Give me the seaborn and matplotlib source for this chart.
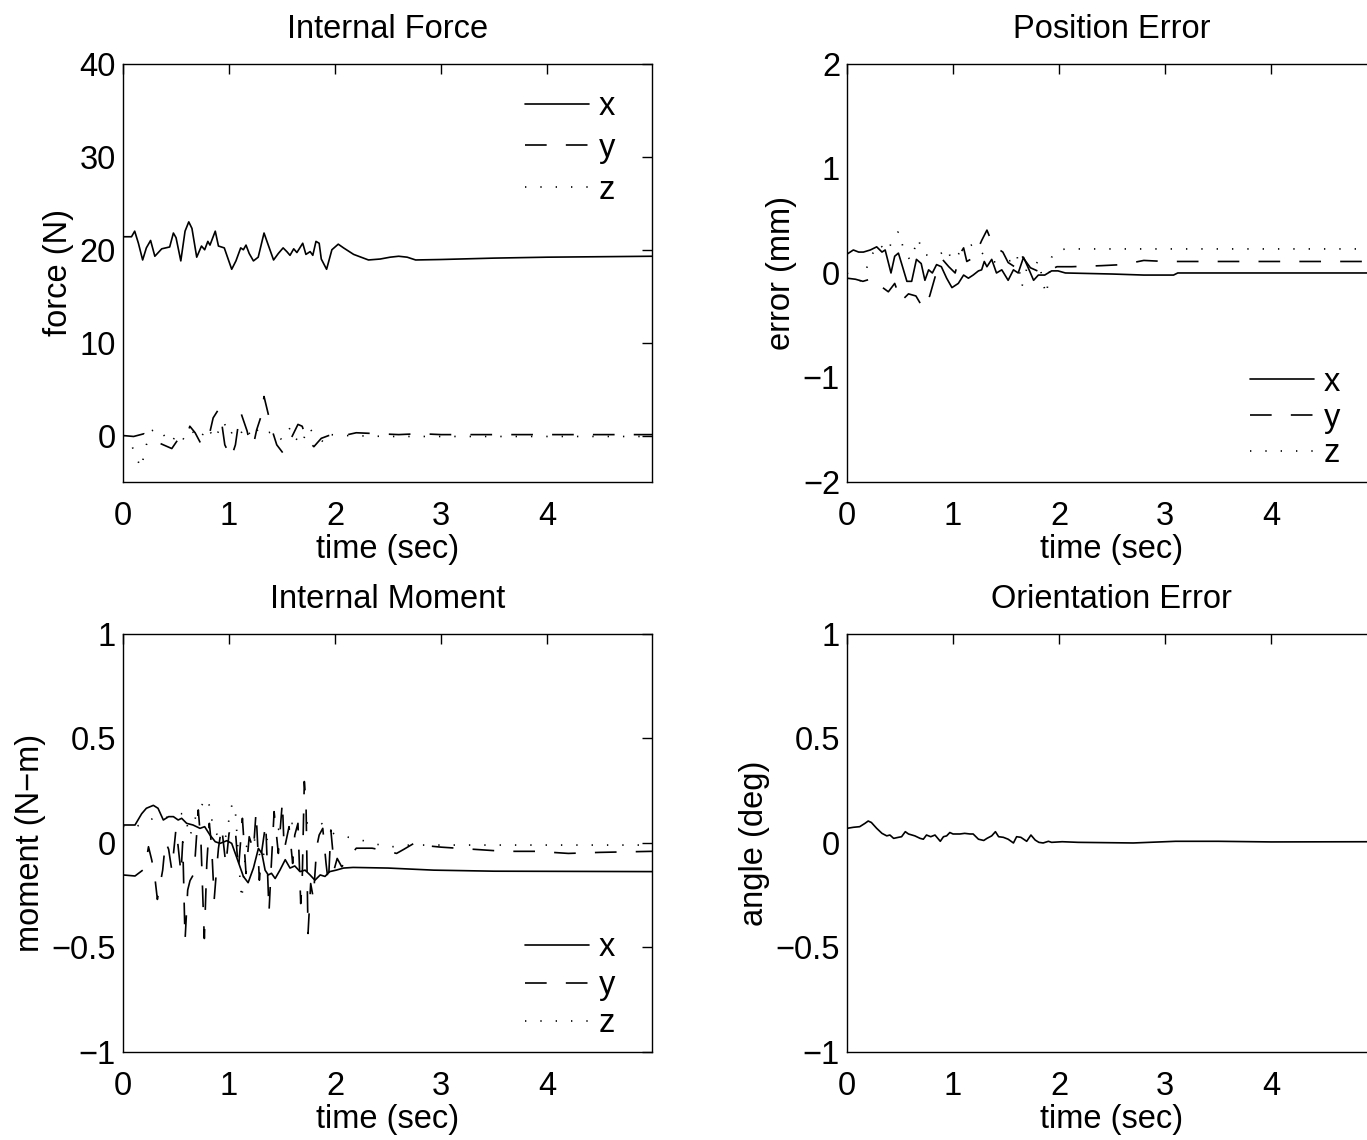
import matplotlib
matplotlib.use("Agg")
import matplotlib.pyplot as plt
import seaborn as sns

# ---- Internal Force (N) ----
force_x_t = [0.0, 0.08, 0.11, 0.145, 0.185, 0.22, 0.26, 0.30, 0.365, 0.44, 0.475, 0.5, 0.545,
             0.585, 0.62, 0.65, 0.695, 0.74, 0.77, 0.8, 0.82, 0.87, 0.9, 0.955, 1.025, 1.065,
             1.11, 1.135, 1.16, 1.19, 1.23, 1.275, 1.33, 1.37, 1.42, 1.465, 1.51, 1.545, 1.575,
             1.61, 1.64, 1.695, 1.725, 1.765, 1.79, 1.82, 1.85, 1.87, 1.92, 1.97, 2.03, 2.08,
             2.175, 2.315, 2.425, 2.52, 2.6, 2.68, 2.76, 3.0, 3.5, 4.0, 4.5, 4.99]
force_x = [21.4, 21.4, 22.0, 20.7, 18.9, 20.2, 21.0, 19.3, 20.1, 20.3, 21.8, 21.3, 18.8,
           22.0, 23.0, 22.3, 19.2, 20.4, 20.0, 20.9, 20.5, 22.0, 20.4, 20.2, 17.9, 18.8,
           20.2, 20.0, 20.5, 19.6, 18.8, 19.2, 21.8, 20.5, 18.9, 19.6, 20.2, 19.8, 19.4,
           20.1, 19.7, 20.7, 19.5, 19.8, 19.4, 20.9, 20.7, 19.0, 17.9, 20.0, 20.6, 20.2,
           19.5, 18.9, 19.0, 19.2, 19.3, 19.2, 18.9, 18.95, 19.1, 19.2, 19.25, 19.3]

force_y_t = [0.0, 0.1, 0.2, 0.3, 0.38, 0.46, 0.52, 0.6, 0.63, 0.68, 0.74, 0.78, 0.82, 0.85,
             0.9, 0.93, 0.96, 1.02, 1.06, 1.09, 1.11, 1.17, 1.2, 1.23, 1.26, 1.3, 1.33, 1.37,
             1.4, 1.45, 1.51, 1.55, 1.59, 1.65, 1.69, 1.73, 1.8, 1.87, 1.94, 2.0, 2.08, 2.2,
             2.4, 2.6, 2.8, 3.0, 3.5, 4.0, 4.5, 4.99]
force_y = [0.0, -0.1, 0.2, -0.6, -1.0, -1.4, -0.4, -0.1, 1.0, 0.3, -1.0, -0.2, 0.4, 1.9,
           2.8, 1.4, -1.0, -2.4, -1.0, 1.4, 2.5, 0.5, -1.0, -1.0, 0.6, 2.0, 4.2, 2.3,
           0.8, -1.0, -1.9, -1.0, -0.2, 1.2, 1.0, -0.4, -1.2, -0.3, 0.0, 0.1, 0.0, 0.3,
           0.2, 0.1, 0.2, 0.1, 0.1, 0.1, 0.1, 0.1]

force_z_t = [0.0, 0.08, 0.12, 0.17, 0.22, 0.27, 0.32, 0.38, 0.45, 0.52, 0.58, 0.65, 0.72,
             0.8, 0.86, 0.95, 1.0, 1.05, 1.1, 1.15, 1.22, 1.28, 1.35, 1.42, 1.5, 1.58, 1.63,
             1.68, 1.75, 1.8, 1.9, 1.95, 2.1, 2.5, 3.0, 4.0, 4.99]
force_z = [0.0, -1.0, -2.2, -3.5, -1.0, 0.5, 0.8, 0.1, -0.8, 0.3, -0.5, 0.5, -0.4,
           0.9, -0.4, 1.5, 0.0, 0.6, 0.0, 1.0, -0.3, 0.8, 0.2, 0.5, -0.5, 0.9, -0.3,
           -1.0, 0.9, 0.2, -0.8, 0.1, 0.0, -0.1, -0.1, -0.1, -0.1]

# ---- Position Error (mm) ----
pos_x_t = [0.0, 0.06, 0.11, 0.155, 0.22, 0.28, 0.33, 0.36, 0.415, 0.45, 0.485, 0.515, 0.565,
           0.61, 0.655, 0.7, 0.735, 0.77, 0.805, 0.845, 0.89, 0.94, 0.99, 1.05, 1.1, 1.145,
           1.19, 1.24, 1.27, 1.295, 1.32, 1.365, 1.41, 1.46, 1.52, 1.57, 1.615, 1.665,
           1.705, 1.76, 1.805, 1.865, 1.93, 1.99, 2.06, 2.5, 2.8, 3.08, 3.12, 4.0, 4.99]
pos_x = [0.18, 0.22, 0.2, 0.2, 0.22, 0.25, 0.2, 0.22, 0.0, 0.16, 0.19, 0.09, -0.08,
         -0.08, 0.13, 0.09, -0.07, 0.03, 0.0, 0.08, 0.06, -0.05, -0.14, -0.1, -0.02, -0.05,
         -0.02, 0.02, 0.03, 0.11, 0.06, 0.13, 0.0, 0.03, -0.07, 0.03, 0.0, 0.15,
         0.06, -0.07, -0.02, -0.02, 0.02, 0.02, 0.0, -0.01, -0.02, -0.02, 0.0, 0.0, 0.0]

pos_y_t = [0.0, 0.08, 0.15, 0.25, 0.31, 0.39, 0.45, 0.51, 0.58, 0.65, 0.72, 0.78, 0.85,
           0.9, 0.96, 1.02, 1.07, 1.1, 1.13, 1.2, 1.27, 1.32, 1.38, 1.47, 1.52, 1.58,
           1.63, 1.68, 1.73, 1.84, 1.92, 1.98, 2.12, 2.4, 2.6, 2.8, 3.0, 4.99]
pos_y = [-0.05, -0.06, -0.08, -0.05, -0.12, -0.18, -0.1, -0.27, -0.2, -0.22, -0.34, -0.22, 0.03,
         0.13, 0.06, 0.0, 0.19, 0.24, 0.11, 0.15, 0.31, 0.41, 0.26, 0.2, 0.1, 0.06,
         0.19, 0.12, 0.05, 0.0, 0.03, 0.06, 0.06, 0.07, 0.08, 0.12, 0.11, 0.11]

pos_z_t = [0.0, 0.06, 0.12, 0.17, 0.22, 0.3, 0.38, 0.45, 0.49, 0.54, 0.6, 0.64, 0.67, 0.72,
           0.8, 0.88, 0.94, 0.99, 1.05, 1.12, 1.18, 1.21, 1.3, 1.36, 1.45, 1.55, 1.6, 1.65,
           1.7, 1.76, 1.81, 1.85, 1.88, 1.93, 1.99, 2.07, 2.5, 3.0, 4.99]
pos_z = [0.0, -0.05, -0.08, 0.0, 0.15, 0.28, 0.2, 0.36, 0.4, 0.2, 0.12, 0.24, 0.33, 0.18,
         0.16, 0.18, 0.24, 0.12, 0.18, 0.24, 0.27, 0.27, 0.16, 0.11, 0.1, 0.12, 0.19, -0.13,
         0.06, 0.06, 0.12, -0.1, -0.21, 0.15, 0.22, 0.23, 0.23, 0.23, 0.23]

# ---- Internal Moment (N-m) ----
mom_x_t = [0.0, 0.113, 0.176, 0.22, 0.286, 0.33, 0.38, 0.43, 0.475, 0.52, 0.553, 0.6, 0.66,
           0.726, 0.77, 0.82, 0.87, 0.915, 0.98, 1.025, 1.07, 1.135, 1.18, 1.23, 1.277,
           1.31, 1.34, 1.37, 1.4, 1.435, 1.48, 1.53, 1.575, 1.62, 1.67, 1.717, 1.764, 1.81,
           1.86, 1.905, 1.95, 2.01, 2.08, 2.17, 2.5, 2.93, 3.5, 4.99]
mom_x = [0.086, 0.086, 0.14, 0.166, 0.18, 0.166, 0.11, 0.126, 0.126, 0.11, 0.118, 0.094, 0.086,
         0.07, 0.078, 0.038, 0.006, -0.002, 0.011, -0.002, -0.066, -0.16, -0.19, -0.12, -0.026,
         -0.05, -0.13, -0.153, -0.145, -0.17, -0.13, -0.08, -0.12, -0.11, -0.137, -0.13, -0.153, -0.178,
         -0.153, -0.16, -0.137, -0.13, -0.12, -0.117, -0.12, -0.13, -0.135, -0.137]

mom_y_t = [0.0, 0.113, 0.186, 0.21, 0.24, 0.27, 0.296, 0.324, 0.343, 0.374, 0.40, 0.43, 0.46,
           0.5, 0.52, 0.547, 0.563, 0.585, 0.61, 0.632, 0.67, 0.71, 0.736, 0.758, 0.767,
           0.79, 0.814, 0.836, 0.86, 0.877, 0.9, 0.93, 0.97, 1.0, 1.035, 1.063, 1.088,
           1.126, 1.16, 1.19, 1.23, 1.255, 1.286, 1.31, 1.346, 1.377, 1.396, 1.425, 1.465,
           1.503, 1.52, 1.566, 1.6, 1.62, 1.65, 1.676, 1.69, 1.71, 1.726, 1.745, 1.77,
           1.795, 1.827, 1.85, 1.884, 1.915, 1.937, 1.96, 1.994, 2.02, 2.063, 2.126, 2.2,
           2.35, 2.5, 2.58, 2.65, 2.75, 2.9, 3.0, 3.3, 3.6, 3.9, 4.2, 4.5, 4.99]
mom_y = [-0.153, -0.158, -0.13, -0.114, -0.018, -0.08, -0.146, -0.27, -0.217, -0.13, 0.006, -0.03, -0.13,
         0.07, -0.018, -0.146, 0.006, -0.465, -0.225, -0.18, -0.146, 0.158, -0.01, -0.34, -0.457,
         -0.1, 0.094, -0.018, -0.27, -0.16, -0.026, 0.078, -0.105, 0.046, 0.086, 0.038, -0.13,
         0.118, -0.146, 0.03, -0.034, 0.15, -0.178, -0.034, 0.094, -0.33, -0.13, 0.15, -0.05,
         0.198, -0.034, 0.078, -0.098, 0.038, 0.094, -0.29, -0.178, 0.294, 0.19, -0.433, -0.194,
         -0.265, -0.018, 0.038, 0.07, -0.098, -0.194, 0.062, -0.122, -0.074, -0.114, -0.074, -0.025,
         -0.025, -0.04, -0.05, -0.03, 0.0, -0.015, -0.02, -0.03, -0.04, -0.04, -0.05, -0.045, -0.04]

mom_z_t = [0.0, 0.1, 0.2, 0.3, 0.4, 0.5, 0.58, 0.63, 0.7, 0.79, 0.82, 0.85, 0.9, 0.96,
           1.03, 1.06, 1.1, 1.12, 1.16, 1.23, 1.31, 1.36, 1.45, 1.56, 1.67, 1.78, 1.86,
           1.92, 2.0, 2.1, 2.2, 2.35, 2.5, 2.7, 3.0, 4.0, 4.99]
mom_z = [0.08, 0.07, 0.1, 0.12, 0.12, 0.14, 0.14, 0.03, 0.15, 0.215, 0.17, 0.07, 0.03, 0.01,
         0.19, 0.15, -0.15, -0.27, -0.02, 0.03, -0.09, 0.02, 0.06, 0.095, 0.09, 0.1, 0.1,
         0.07, 0.04, 0.03, 0.02, 0.0, -0.02, -0.01, -0.01, -0.01, -0.01]

# ---- Orientation Error (deg) ----
ang_t = [0.0, 0.06, 0.12, 0.17, 0.2, 0.23, 0.28, 0.33, 0.375, 0.405, 0.44, 0.485, 0.515, 0.55,
         0.58, 0.64, 0.69, 0.72, 0.75, 0.79, 0.83, 0.88, 0.91, 0.94, 0.97, 1.0, 1.065, 1.11,
         1.16, 1.19, 1.24, 1.29, 1.32, 1.365, 1.4, 1.43, 1.475, 1.52, 1.57, 1.6, 1.64, 1.695,
         1.735, 1.775, 1.81, 1.85, 1.9, 1.93, 2.03, 2.18, 2.7, 3.1, 3.5, 4.0, 4.99]
ang = [0.07, 0.075, 0.078, 0.094, 0.105, 0.098, 0.07, 0.046, 0.034, 0.038, 0.022, 0.027, 0.03, 0.054,
       0.043, 0.034, 0.022, 0.018, 0.038, 0.03, 0.038, 0.008, 0.03, 0.034, 0.05, 0.043, 0.043, 0.046,
       0.043, 0.043, 0.018, 0.012, 0.022, 0.034, 0.054, 0.03, 0.027, 0.018, 0.0, 0.03, 0.027, 0.008,
       0.038, 0.014, 0.003, 0.0, 0.008, 0.003, 0.006, 0.003, 0.0, 0.008, 0.008, 0.005, 0.006]

sns.set_style("white")
plt.rcParams['font.family'] = ['Liberation Sans', 'DejaVu Sans']
plt.rcParams['font.size'] = 23.5
plt.rcParams['axes.linewidth'] = 1.0
# matlab look: everything pure black
for key in ['text.color', 'axes.labelcolor', 'xtick.color', 'ytick.color', 'axes.edgecolor']:
    plt.rcParams[key] = 'black'

fig = plt.figure(figsize=(13.67, 11.4), dpi=100)

solid = '-'
dashed = (0, (13, 11.5))
dotted = (0, (0.8, 8.4))
LW = 1.2

left_x, right_x, ax_w = 0.09, 0.6196, 0.387
top_y, bot_y, ax_h = 0.5772, 0.0772, 0.3667


def setup(ax, title, ylabel, ylim, yticks, yticklabels, right_ticks=True):
    ax.set_xlim(0, 4.99)
    ax.set_ylim(*ylim)
    ax.set_xticks([0, 1, 2, 3, 4])
    ax.set_yticks(yticks)
    ax.set_yticklabels(yticklabels)
    ax.tick_params(direction='in', top=True, right=right_ticks, length=7, width=1.0,
                   labelsize=23.5)
    ax.tick_params(axis='x', pad=14)
    ax.tick_params(axis='y', pad=5)
    ax.set_title(title, fontsize=23.5, pad=19)
    ax.set_xlabel('time (sec)', fontsize=23.5, labelpad=1)
    ax.set_ylabel(ylabel, fontsize=23.5, labelpad=4)
    for s in ax.spines.values():
        s.set_color('black')
        s.set_linewidth(1.0)


def three(ax, tx, x, ty, y, tz, z):
    sns.lineplot(x=tx, y=x, ax=ax, color='black', lw=LW, linestyle=solid, label='x', estimator=None)
    sns.lineplot(x=ty, y=y, ax=ax, color='black', lw=LW, linestyle=dashed, label='y', estimator=None)
    sns.lineplot(x=tz, y=z, ax=ax, color='black', lw=LW, linestyle=dotted, label='z', estimator=None)


def legend(ax, loc, anchor, spacing):
    ax.legend(loc=loc, bbox_to_anchor=anchor, frameon=False, borderaxespad=0, borderpad=0,
              handlelength=1.95, handletextpad=0.3, labelspacing=spacing, fontsize=23.5)


# Internal Force
ax1 = fig.add_axes([left_x, top_y, ax_w, ax_h])
three(ax1, force_x_t, force_x, force_y_t, force_y, force_z_t, force_z)
setup(ax1, 'Internal Force', 'force (N)', (-5, 40), [0, 10, 20, 30, 40],
      ['0', '10', '20', '30', '40'])
legend(ax1, 'upper right', (0.93, 0.935), 0.33)

# Position Error
ax2 = fig.add_axes([right_x, top_y, ax_w, ax_h])
three(ax2, pos_x_t, pos_x, pos_y_t, pos_y, pos_z_t, pos_z)
setup(ax2, 'Position Error', 'error (mm)', (-2, 2), [-2, -1, 0, 1, 2],
      ['\u22122', '\u22121', '0', '1', '2'], right_ticks=False)
legend(ax2, 'lower right', (0.932, 0.03), 0.15)

# Internal Moment
ax3 = fig.add_axes([left_x, bot_y, ax_w, ax_h])
three(ax3, mom_x_t, mom_x, mom_y_t, mom_y, mom_z_t, mom_z)
setup(ax3, 'Internal Moment', 'moment (N\u2212m)', (-1, 1), [-1, -0.5, 0, 0.5, 1],
      ['\u22121', '\u22120.5', '0', '0.5', '1'])
legend(ax3, 'lower right', (0.93, 0.03), 0.22)

# Orientation Error
ax4 = fig.add_axes([right_x, bot_y, ax_w, ax_h])
sns.lineplot(x=ang_t, y=ang, ax=ax4, color='black', lw=LW, estimator=None)
setup(ax4, 'Orientation Error', 'angle (deg)', (-1, 1), [-1, -0.5, 0, 0.5, 1],
      ['\u22121', '\u22120.5', '0', '0.5', '1'], right_ticks=False)

fig.savefig('out.png', dpi=100)
